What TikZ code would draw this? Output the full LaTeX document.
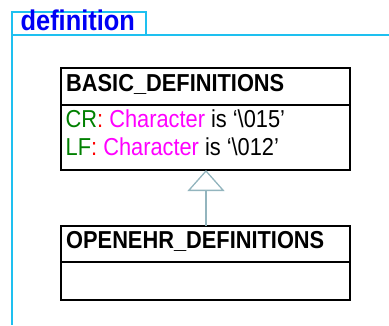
\documentclass[tikz,border=0pt]{standalone}
\usepackage{fontspec}
\setmainfont{Liberation Sans}[FakeStretch=0.89]
\usetikzlibrary{arrows.meta}
\definecolor{framecyan}{RGB}{30,192,240}
\definecolor{lblblue}{RGB}{0,0,245}
\definecolor{dkgreen}{RGB}{0,128,0}
\definecolor{mag}{RGB}{255,0,255}
\definecolor{inhgray}{RGB}{147,181,190}
\begin{document}
\begin{tikzpicture}[x=1pt,y=-1pt,
  framestyle/.style={draw=framecyan,line width=2.3pt},
  umlbox/.style={draw=black,line width=1.1pt,anchor=north west,inner sep=0pt,outer sep=0pt,minimum width=289pt},
  boxtext/.style={anchor=base west,inner sep=0pt,font=\fontsize{24.5}{28}\selectfont},
  inh/.style={draw=inhgray,line width=1.3pt,-{Triangle[open,length=21pt,width=37pt]}}]
\useasboundingbox (0,0) rectangle (389,325);
% frame
\node[framestyle,anchor=north west,inner sep=0pt,outer sep=0pt,minimum width=134pt,minimum height=23pt] (lbl) at (12,12) {};
\node[anchor=base west,inner sep=0pt,text=lblblue,font=\fontsize{28.5}{32}\selectfont\bfseries] (lbltext) at (20.5,30.7) {definition};
\coordinate (fr) at (389,35);
\coordinate (fb) at (12,325);
\draw[framestyle] (lbl.south east) -- (fr);
\draw[framestyle] (lbl.south west) -- (fb);
% BASIC_DEFINITIONS
\node[umlbox,minimum height=37pt] (b1h) at (61,68) {};
\node[umlbox,minimum height=65pt] (b1b) at (61,105) {};
\node[boxtext,font=\fontsize{24.5}{28}\selectfont\bfseries] (b1n) at (66,91) {BASIC\_DEFINITIONS};
\node[boxtext] (cr) at (65.5,127.3) {\textcolor{dkgreen}{CR}\textcolor{red}{:} \textcolor{mag}{Character} is ‘\textbackslash 015’};
\node[boxtext] (lf) at (65.5,155) {\textcolor{dkgreen}{LF}\textcolor{red}{:} \textcolor{mag}{Character} is ‘\textbackslash 012’};
% OPENEHR_DEFINITIONS
\node[umlbox,minimum height=36pt] (b2h) at (61,226) {};
\node[umlbox,minimum height=38pt] (b2b) at (61,262) {};
\node[boxtext,font=\fontsize{24.5}{28}\selectfont\bfseries] (b2n) at (66,248.3) {OPENEHR\_DEFINITIONS};
% inheritance
\draw[inh] (b2h.north -| 206,0) -- (b1b.south -| 206,0);
\end{tikzpicture}
\end{document}
